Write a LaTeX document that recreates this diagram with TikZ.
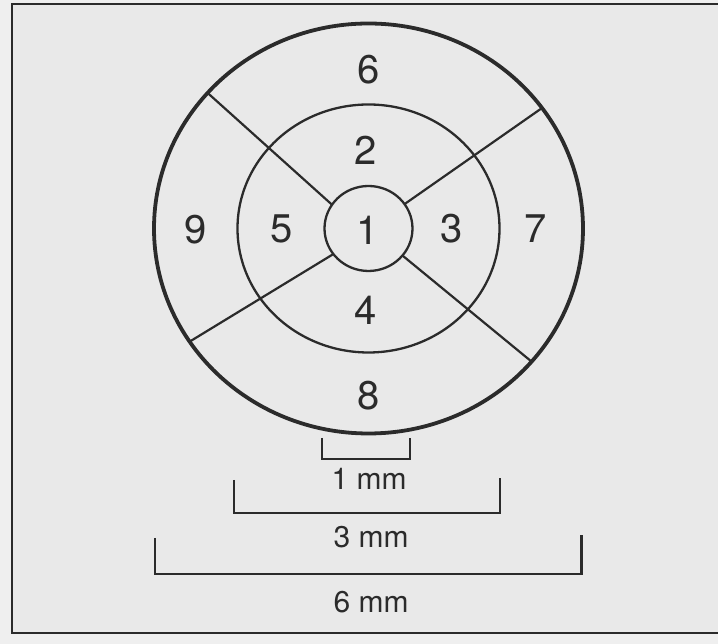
\documentclass[tikz,border=0pt]{standalone}
\usepackage{fontspec}
\setmainfont{TeX Gyre Heros}
\usetikzlibrary{positioning}
\definecolor{ink}{HTML}{2B2B2B}
\definecolor{paper}{HTML}{E9E9E9}
\definecolor{margin}{HTML}{EFEFEF}

\begin{document}
\begin{tikzpicture}[x=1pt,y=1pt,
  rim/.style={draw=ink,line width=3.8pt},
  ring/.style={draw=ink,line width=2.3pt},
  spoke/.style={draw=ink,line width=2.2pt},
  bar/.style={draw=ink,line width=2.2pt},
  num/.style={text=ink,font=\fontsize{40}{40}\selectfont},
  size/.style={text=ink,font=\fontsize{30}{30}\selectfont}]
  \useasboundingbox[fill=margin] (0,0) rectangle (718,644);
  \fill[paper] (12,11) rectangle (718,639.5);
  \draw[ink,line width=2pt] (724,639.5) -- (12,639.5) -- (12,11) -- (724,11);

  % rings
  \coordinate (c) at (368.5,415.5);
  \draw[rim] (c) ellipse (214.5 and 205);
  \draw[ring] (c) ellipse (131 and 124);
  \draw[ring] (c) ellipse (44 and 42.5);

  % spokes
  \begin{scope}[shift={(c)}]
    \foreach \a/\b in {146/138.6, 35/36, 217/213.5, 320.5/319.5}
      \draw[spoke] (\a:44 and 42.5) -- (\b:214.5 and 205);
  \end{scope}

  % fields
  \node[num] (f1) at (368,414) {1};
  \node[num] (f2) at (366,494) {2};
  \node[num] (f3) at (452,415) {3};
  \node[num] (f4) at (366,334) {4};
  \node[num] (f5) at (281.5,415) {5};
  \node[num] (f6) at (368.5,574) {6};
  \node[num] (f7) at (535.5,415) {7};
  \node[num] (f8) at (368.5,248) {8};
  \node[num] (f9) at (195.5,414) {9};

  % scale bars
  \draw[bar] (322,206) |- (410,185) -- (410,206);
  \node[size] (mm1) at (369,165) {1 mm};
  \draw[bar] (234,164) |- (500,131) -- (500,166);
  \node[size] (mm3) at (371,107) {3 mm};
  \draw[bar] (155,106) |- (581.5,70) -- (581.5,109);
  \node[size] (mm6) at (371,42) {6 mm};
\end{tikzpicture}
\end{document}
